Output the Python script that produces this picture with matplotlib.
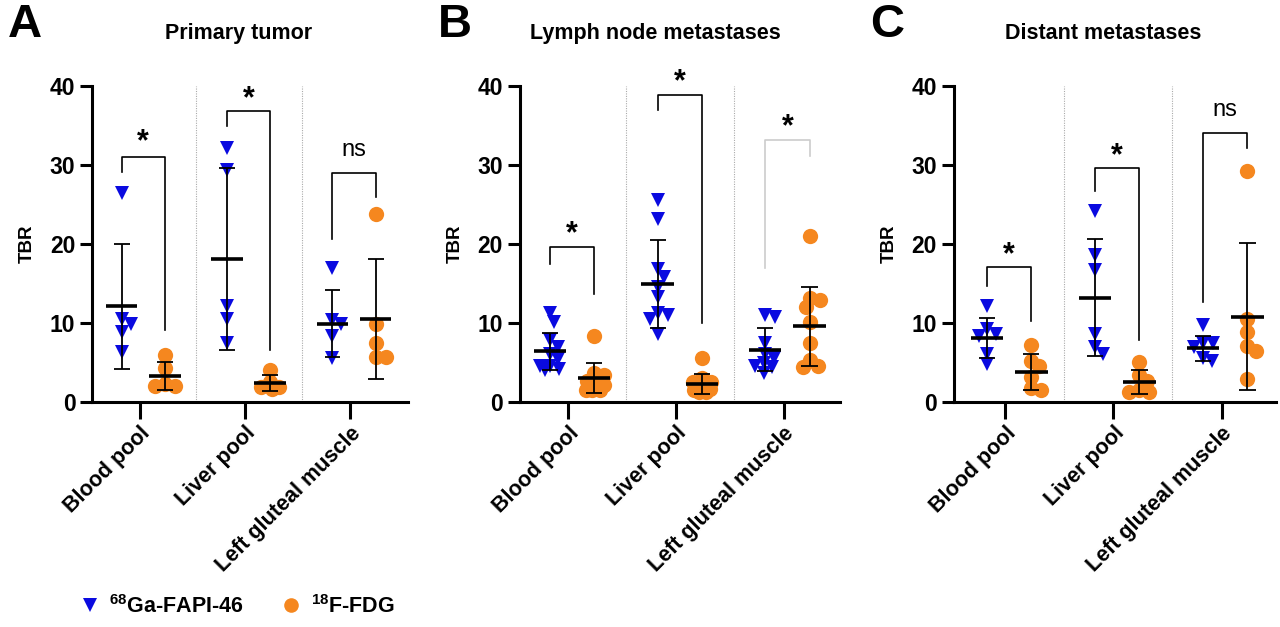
import numpy as np
import matplotlib
matplotlib.use("Agg")
import matplotlib.pyplot as plt
from matplotlib.lines import Line2D

plt.rcParams['font.family'] = ['Liberation Sans', 'DejaVu Sans']
plt.rcParams['mathtext.fontset'] = 'custom'
plt.rcParams['mathtext.rm'] = 'Liberation Sans'
plt.rcParams['mathtext.bf'] = 'Liberation Sans:bold'
plt.rcParams['mathtext.default'] = 'bf'

BLUE = '#0a0ae0'
ORANGE = '#f5871f'

categories = ["Blood pool", "Liver pool", "Left gluteal muscle"]
panel_letters = ["A", "B", "C"]
panel_titles = ["Primary tumor", "Lymph node metastases", "Distant metastases"]

# TBR values (per panel: blood, liver, gluteal)
a_fapi = [[26.4, 10.5, 9.9, 8.9, 6.3],
          [32.1, 29.3, 12.2, 10.5, 7.4],
          [16.9, 10.4, 9.9, 8.4, 5.5]]
a_fdg = [[5.9, 4.3, 2.3, 2.0, 2.0],
         [4.1, 2.5, 1.9, 1.9, 1.6],
         [23.8, 9.9, 7.4, 5.7, 5.7]]
b_fapi = [[11.2, 10.1, 7.8, 7.0, 6.1, 5.4, 4.6, 4.6, 4.2, 4.0],
          [25.5, 23.2, 16.8, 15.8, 14.6, 13.3, 11.2, 11.0, 10.5, 8.6],
          [11.0, 10.8, 7.4, 6.1, 5.5, 4.9, 4.6, 4.4, 3.6]]
b_fdg = [[8.3, 3.6, 3.4, 2.7, 2.1, 2.1, 1.5, 1.5, 1.5],
         [5.5, 3.0, 2.5, 2.5, 1.7, 1.6, 1.5, 1.3, 1.3],
         [21.0, 13.1, 12.9, 12.0, 10.1, 7.4, 5.3, 4.6, 4.4]]
c_fapi = [[12.2, 9.2, 8.6, 8.4, 6.1, 4.8],
          [24.2, 18.6, 16.7, 8.6, 6.9, 6.1],
          [9.7, 7.5, 7.5, 6.9, 5.6, 5.2]]
c_fdg = [[7.2, 5.2, 4.5, 3.1, 1.7, 1.5],
         [5.0, 3.4, 2.7, 1.5, 1.2, 1.2],
         [29.2, 10.5, 8.8, 7.1, 6.5, 2.9]]

# mean and SD as drawn
a_fapi_mean, a_fapi_sd = [12.1, 18.1, 9.9], [7.9, 11.55, 4.25]
a_fdg_mean, a_fdg_sd = [3.3, 2.4, 10.5], [1.75, 1.05, 7.6]
b_fapi_mean, b_fapi_sd = [6.4, 14.9, 6.6], [2.3, 5.55, 2.75]
b_fdg_mean, b_fdg_sd = [3.0, 2.3, 9.6], [1.9, 1.25, 5.0]
c_fapi_mean, c_fapi_sd = [8.1, 13.2, 6.8], [2.55, 7.4, 1.6]
c_fdg_mean, c_fdg_sd = [3.8, 2.5, 10.8], [2.25, 1.5, 9.35]

# significance brackets: left leg bottom, top, right leg bottom, label, label centre
a_brackets = [(29.1, 31.0, 9.1, "*", 34.0), (34.9, 36.8, 6.6, "*", 39.5), (20.6, 29.0, 25.9, "ns", 31.9)]
b_brackets = [(17.4, 19.6, 13.6, "*", 22.4), (36.9, 38.9, 10.0, "*", 41.6), (17.0, 33.2, 31.1, "*", 35.9)]
c_brackets = [(14.7, 17.1, 10.2, "*", 19.8), (26.7, 29.6, 7.8, "*", 32.3), (12.7, 34.0, 32.2, "ns", 37.0)]

panels = [
    (a_fapi, a_fdg, a_fapi_mean, a_fapi_sd, a_fdg_mean, a_fdg_sd, a_brackets),
    (b_fapi, b_fdg, b_fapi_mean, b_fapi_sd, b_fdg_mean, b_fdg_sd, b_brackets),
    (c_fapi, c_fdg, c_fapi_mean, c_fapi_sd, c_fdg_mean, c_fdg_sd, c_brackets),
]

axes_rects = [(0.072, 0.359, 0.247, 0.504),
              (0.406, 0.359, 0.250, 0.504),
              (0.745, 0.359, 0.2515, 0.504)]
xlims = [(-0.45, 2.55), (-0.45, 2.52), (-0.48, 2.50)]
title_x = [0.186, 0.512, 0.862]
letter_x = [0.006, 0.342, 0.680]

OFF_FAPI, OFF_FDG = -0.17, 0.24


def swarm_offsets(vals, px_x, px_y, d=9.5, step=1.0, max_px=10.0):
    # simple Prism-like horizontal spreading, limited width
    placed = []
    offs = []
    cands = [0.0]
    k = 1
    while k * step <= max_px:
        cands += [k * step, -k * step]
        k += 1
    for v in vals:
        y = v * px_y
        best, best_d = 0.0, -1.0
        for x in cands:
            md = min([np.hypot(x - px, y - py) for px, py in placed], default=1e9)
            if md >= d:
                best = x
                break
            if md > best_d:
                best, best_d = x, md
        placed.append((best, y))
        offs.append(best / px_x)
    return np.array(offs)


fig = plt.figure(figsize=(12.8, 6.27), dpi=100)

for p, (fapi, fdg, fm, fs, gm, gs, brackets) in enumerate(panels):
    ax = fig.add_axes(axes_rects[p])
    ax.set_xlim(*xlims[p])
    ax.set_ylim(0, 40)
    px_x = 1280 * axes_rects[p][2] / (xlims[p][1] - xlims[p][0])
    px_y = 627 * axes_rects[p][3] / 40

    for i in range(3):
        # separators
        if i < 2:
            ax.axvline(i + 0.54, ymin=0, ymax=1, color='#aaaaaa', lw=0.8, ls=(0, (1, 1.2)), zorder=0)
        for vals, mean, sd, off, col, mk, ms in [
                (fapi[i], fm[i], fs[i], OFF_FAPI, BLUE, 'v', 10.5),
                (fdg[i], gm[i], gs[i], OFF_FDG, ORANGE, 'o', 11)]:
            xs = i + off + swarm_offsets(vals, px_x, px_y)
            ax.plot(xs, vals, ls='none', marker=mk, color=col, ms=ms, mew=0, clip_on=False, zorder=2)
            xc = i + off
            ax.vlines(xc, mean - sd, mean + sd, color='black', lw=1.3, zorder=3)
            ax.hlines([mean - sd, mean + sd], xc - 0.075, xc + 0.075, color='black', lw=1.3, zorder=3)
            ax.hlines(mean, xc - 0.15, xc + 0.15, color='black', lw=2.6, zorder=3)

        lb, top, rb, lab, ly = brackets[i]
        bcol = '#cccccc' if (p == 1 and i == 2) else 'black'
        x0, x1 = i + OFF_FAPI, i + OFF_FDG
        ax.plot([x0, x0, x1, x1], [lb, top, top, rb], color=bcol, lw=1.2, clip_on=False, zorder=1)
        if lab == "*":
            ax.annotate(lab, xy=((x0 + x1) / 2, ly), xytext=(0, -12.5), textcoords='offset points',
                        ha='center', va='baseline', fontsize=22, fontweight='bold', annotation_clip=False)
        else:
            ax.annotate(lab, xy=((x0 + x1) / 2, ly), xytext=(0, -4.5), textcoords='offset points',
                        ha='center', va='baseline', fontsize=17, annotation_clip=False)

    for s in ['top', 'right']:
        ax.spines[s].set_visible(False)
    for s in ['left', 'bottom']:
        ax.spines[s].set_linewidth(2.2)
    ax.set_yticks([0, 10, 20, 30, 40])
    ax.set_xticks(range(3))
    ax.set_xticklabels(categories, rotation=45, ha='right', rotation_mode='anchor',
                       fontsize=15.5, fontweight='bold')
    ax.tick_params(axis='y', length=9, width=2.2, labelsize=16.5, pad=3)
    ax.tick_params(axis='x', length=12, width=2.2, pad=3)
    for t in ax.get_yticklabels():
        t.set_fontweight('bold')
    ax.set_ylabel("TBR", fontsize=13.5, fontweight='bold', labelpad=10)

    fig.text(letter_x[p], 0.995, panel_letters[p], fontsize=34, fontweight='bold', va='top', ha='left')
    fig.text(title_x[p], 0.947, panel_titles[p], fontsize=15.5, fontweight='bold', va='center', ha='center')

handles = [Line2D([], [], ls='none', marker='v', color=BLUE, ms=10, mew=0),
           Line2D([], [], ls='none', marker='o', color=ORANGE, ms=10.5, mew=0)]
fig.legend(handles, [r"$^{68}$Ga-FAPI-46", r"$^{18}$F-FDG"], loc='center left',
           bbox_to_anchor=(0.045, 0.033), ncol=2, frameon=False, handletextpad=0.3,
           handlelength=1.2, columnspacing=1.6, prop=dict(weight='bold', size=15.5))

fig.savefig("out.png", dpi=100)
